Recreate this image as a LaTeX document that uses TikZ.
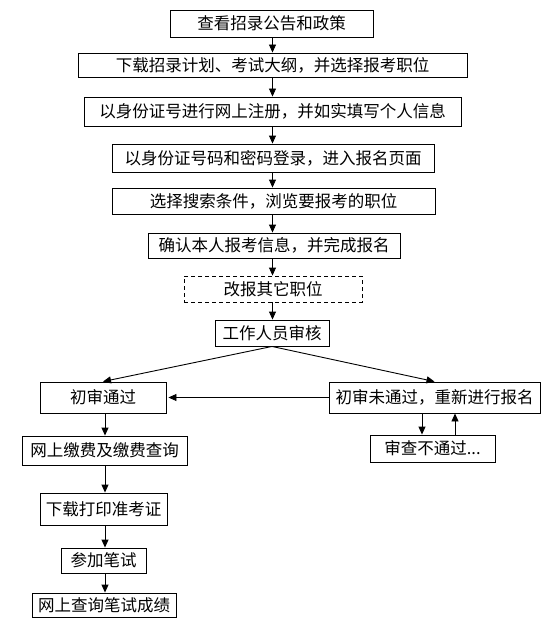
\documentclass[tikz,border=0pt]{standalone}
\usepackage{fontspec}
\setmainfont{Noto Sans CJK SC}
\usetikzlibrary{arrows.meta}
\begin{document}
\begin{tikzpicture}[x=1pt,y=-1pt,
  box/.style={draw=black,line width=0.9pt,inner sep=0pt,font=\fontsize{16.5}{18}\selectfont},
  dbox/.style={box,dash pattern=on 4pt off 3pt},
  arr/.style={line width=0.9pt,-{Triangle[length=8pt,width=7pt]}}]
\useasboundingbox (0,0) rectangle (548,623);
\node[box,minimum width=203,minimum height=27] (n1) at (271.5,23.5) {查看招录公告和政策};
\node[box,minimum width=389,minimum height=24] (n2) at (272.5,65) {下载招录计划、考试大纲，并选择报考职位};
\node[box,minimum width=377,minimum height=29] (n3) at (272.5,111.5) {以身份证号进行网上注册，并如实填写个人信息};
\node[box,minimum width=322,minimum height=28] (n4) at (273,158) {以身份证号码和密码登录，进入报名页面};
\node[box,minimum width=323,minimum height=26] (n5) at (273.5,201) {选择搜索条件，浏览要报考的职位};
\node[box,minimum width=252,minimum height=25] (n6) at (274,245.5) {确认本人报考信息，并完成报名};
\node[dbox,minimum width=178,minimum height=26] (n7) at (273,289) {改报其它职位};
\node[box,minimum width=114,minimum height=26] (n8) at (272,333) {工作人员审核};
\node[box,minimum width=126,minimum height=31] (n9) at (103,397.5) {初审通过};
\node[box,minimum width=211,minimum height=31] (n10) at (434.5,397.5) {初审未通过，重新进行报名};
\node[box,minimum width=125,minimum height=27] (n11) at (432.5,448.5) {审查不通过...};
\node[box,minimum width=165,minimum height=29] (n12) at (104.5,450.5) {网上缴费及缴费查询};
\node[box,minimum width=127,minimum height=32] (n13) at (103.5,509) {下载打印准考证};
\node[box,minimum width=85,minimum height=25] (n14) at (103.5,560.5) {参加笔试};
\node[box,minimum width=144,minimum height=24] (n15) at (104,605) {网上查询笔试成绩};
\coordinate (c1) at (272.5,0);
\foreach \a/\b in {n1/n2,n2/n3,n3/n4,n4/n5,n5/n6,n6/n7,n7/n8}
  \draw[arr] (c1 |- \a.south) -- (c1 |- \b.north);
\draw[arr] (n8.south) -- (n9.north);
\draw[arr] (n8.south) -- (n10.north);
\draw[arr] (n10.west) -- ([xshift=2pt]n9.east);
\coordinate (c2) at (105,0);
\foreach \a/\b in {n9/n12,n12/n13,n13/n14,n14/n15}
  \draw[arr] (c2 |- \a.south) -- (c2 |- \b.north);
\coordinate (d1) at (422,0);
\coordinate (d2) at (455,0);
\draw[arr] (d1 |- n10.south) -- (d1 |- n11.north);
\draw[arr] (d2 |- n11.north) -- (d2 |- n10.south);
\end{tikzpicture}
\end{document}
